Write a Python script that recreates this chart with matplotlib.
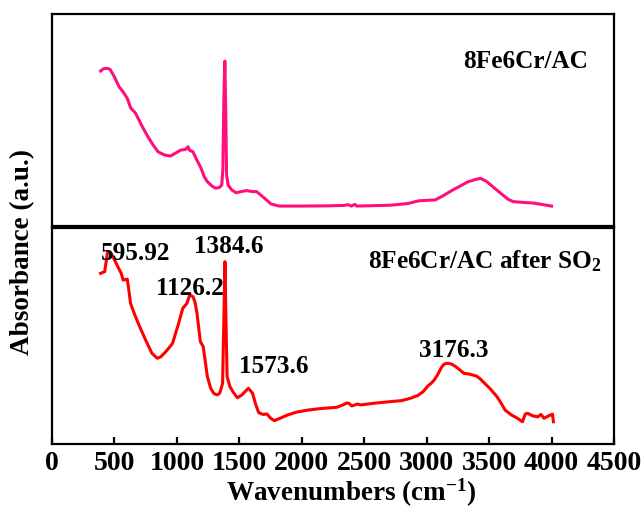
import matplotlib
matplotlib.use("Agg")
import matplotlib.pyplot as plt

plt.rcParams["font.family"] = ["Liberation Serif", "DejaVu Serif"]
plt.rcParams["font.weight"] = "bold"
plt.rcParams["mathtext.fontset"] = "custom"
plt.rcParams["mathtext.rm"] = "Liberation Serif:bold"
plt.rcParams["mathtext.bf"] = "Liberation Serif:bold"
plt.rcParams["mathtext.it"] = "Liberation Serif:bold"

# FTIR spectrum of fresh 8Fe6Cr/AC (relative absorbance)
wn_fresh = [389, 410, 439, 465, 500, 537, 570, 603, 630, 669, 720, 768, 810, 849,
            900, 948, 990, 1030, 1070, 1089, 1100, 1129, 1160, 1194, 1220, 1244,
            1280, 1310, 1340, 1359, 1368, 1376, 1384, 1391, 1398, 1410, 1440, 1474,
            1520, 1557, 1600, 1639, 1700, 1754, 1819, 2000, 2200, 2340, 2370, 2395,
            2425, 2440, 2708, 2850, 2937, 3068, 3130, 3200, 3270, 3332, 3390, 3431,
            3480, 3530, 3600, 3650, 3693, 3780, 3858, 3950, 4000]
abs_fresh = [0.731, 0.741, 0.744, 0.739, 0.703, 0.657, 0.632, 0.602, 0.557, 0.532,
             0.472, 0.421, 0.382, 0.350, 0.335, 0.330, 0.344, 0.358, 0.361, 0.374,
             0.358, 0.350, 0.311, 0.272, 0.231, 0.209, 0.189, 0.178, 0.182, 0.193,
             0.264, 0.594, 0.778, 0.547, 0.241, 0.193, 0.170, 0.157, 0.163, 0.167,
             0.163, 0.162, 0.132, 0.104, 0.094, 0.094, 0.095, 0.097, 0.101, 0.094,
             0.102, 0.094, 0.098, 0.106, 0.119, 0.123, 0.142, 0.167, 0.189, 0.209,
             0.219, 0.225, 0.210, 0.185, 0.151, 0.127, 0.115, 0.111, 0.108, 0.099,
             0.094]

# FTIR spectrum of 8Fe6Cr/AC after SO2 exposure (relative absorbance)
wn_so2 = [389, 422, 445, 460, 488, 520, 554, 570, 603, 615, 629, 660, 702, 750, 800,
          843, 870, 899, 930, 965, 1010, 1047, 1080, 1103, 1129, 1145, 1161, 1188,
          1211, 1244, 1270, 1294, 1320, 1343, 1366, 1376, 1385, 1393, 1402, 1425,
          1450, 1484, 1520, 1550, 1573, 1606, 1630, 1655, 1690, 1721, 1750, 1780,
          1830, 1885, 1960, 2050, 2150, 2280, 2330, 2360, 2378, 2400, 2445, 2470,
          2600, 2708, 2800, 2872, 2930, 2971, 3010, 3036, 3060, 3086, 3120, 3140,
          3168, 3200, 3233, 3265, 3299, 3340, 3370, 3398, 3430, 3464, 3510, 3563,
          3595, 3628, 3680, 3727, 3767, 3790, 3809, 3850, 3891, 3915, 3940, 3975,
          4007, 4015]
abs_so2 = [0.790, 0.798, 0.890, 0.889, 0.867, 0.829, 0.790, 0.759, 0.763, 0.713,
           0.651, 0.602, 0.543, 0.481, 0.420, 0.397, 0.403, 0.420, 0.440, 0.466,
           0.551, 0.628, 0.651, 0.690, 0.682, 0.657, 0.605, 0.474, 0.450, 0.312,
           0.259, 0.235, 0.227, 0.235, 0.281, 0.574, 0.844, 0.574, 0.312, 0.265,
           0.241, 0.214, 0.227, 0.245, 0.258, 0.235, 0.185, 0.145, 0.137, 0.139,
           0.120, 0.108, 0.120, 0.134, 0.148, 0.157, 0.164, 0.170, 0.181, 0.190,
           0.188, 0.176, 0.185, 0.181, 0.190, 0.196, 0.201, 0.212, 0.225, 0.242,
           0.269, 0.281, 0.296, 0.319, 0.356, 0.370, 0.374, 0.370, 0.358, 0.343,
           0.327, 0.324, 0.319, 0.315, 0.301, 0.281, 0.255, 0.219, 0.190, 0.157,
           0.134, 0.119, 0.103, 0.139, 0.142, 0.130, 0.126, 0.137, 0.119, 0.130,
           0.138, 0.103]

# Peak annotations: text, x, baseline y
peak_labels = ["595.92", "1384.6", "1126.2", "1573.6", "3176.3"]
peak_x = [669, 1418, 1105, 1778, 3220]
peak_y = [0.852, 0.884, 0.690, 0.329, 0.404]

x_ticks = [0, 500, 1000, 1500, 2000, 2500, 3000, 3500, 4000, 4500]

fig = plt.figure(figsize=(6.44, 5.11), dpi=100)
left, right = 52 / 644, 614 / 644
ax_top = fig.add_axes([left, 1 - 226 / 511, right - left, 212 / 511])
ax_bot = fig.add_axes([left, 1 - 444 / 511, right - left, 216 / 511])

for ax in (ax_top, ax_bot):
    ax.set_xlim(0, 4500)
    ax.set_ylim(0, 1)
    ax.set_yticks([])
    for sp in ax.spines.values():
        sp.set_linewidth(1.6)

ax_top.set_xticks([])
ax_bot.set_xticks(x_ticks)
ax_bot.tick_params(axis="x", direction="in", length=5, width=1.6, labelsize=20, pad=5)
for lab in ax_bot.get_xticklabels():
    lab.set_fontweight("bold")

ax_top.plot(wn_fresh, abs_fresh, color="#FF0F7B", lw=2.2)
ax_bot.plot(wn_so2, abs_so2, color="#FF0000", lw=2.2)

ax_top.text(4292, 0.745, "8Fe6Cr/AC", ha="right", va="baseline",
            fontsize=18.2, fontweight="bold")
ax_bot.text(4398, 0.815, "8Fe6Cr/AC after SO$_2$", ha="right", va="baseline",
            fontsize=18.2, fontweight="bold")

for t, x, y in zip(peak_labels, peak_x, peak_y):
    ax_bot.text(x, y, t, ha="center", va="baseline", fontsize=18.2, fontweight="bold")

fig.text(351 / 644, 1 - 493 / 511, "Wavenumbers (cm$^{-1}$)", ha="center", va="center",
         fontsize=19.5, fontweight="bold")
fig.text(23 / 644, 1 - 252 / 511, "Absorbance (a.u.)", ha="center", va="center",
         rotation=90, fontsize=19.5, fontweight="bold")

fig.savefig("out.png", dpi=100)
